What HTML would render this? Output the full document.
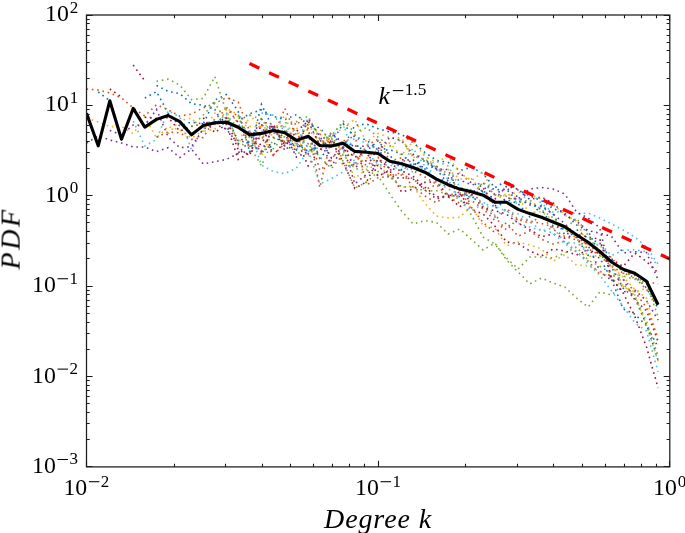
<!DOCTYPE html>
<html><head><meta charset="utf-8"><title>PDF vs Degree k</title>
<style>
html,body{margin:0;padding:0;background:#fff;}
svg{display:block;}
text{font-family:"Liberation Serif",serif;fill:#000;}
.tk{font-size:23.8px;}
.sup{font-size:17px;}
.ax{font-size:28px;font-style:italic;}
.dots path{fill:none;stroke-width:1.6;stroke-dasharray:1.6 3.75;stroke-linejoin:miter;}
</style></head>
<body>
<svg width="685" height="533" viewBox="0 0 685 533">
<rect x="0" y="0" width="685" height="533" fill="#ffffff"/>
<clipPath id="cp"><rect x="86.5" y="15.0" width="583.3" height="451.9"/></clipPath>
<g class="dots" clip-path="url(#cp)">
<path d="M144.8 98.1 L156.5 91.6 L168.2 113.2 L179.8 125.9 L191.5 122.1 L203.2 124.0 L214.8 100.0 L226.5 94.6 L238.2 111.2 L249.8 152.2 L261.5 104.4 L273.2 129.2 L284.8 143.2 L296.5 143.8 L308.2 151.3 L319.8 151.6 L331.5 133.5 L343.2 147.2 L354.8 125.5 L366.5 124.0 L378.1 128.7 L389.8 132.0 L401.5 134.3 L413.1 142.7 L424.8 152.3 L436.5 160.4 L448.1 162.4 L459.8 170.5 L471.5 167.2 L483.1 173.8 L494.8 187.8 L506.5 180.9 L518.1 190.1 L529.8 195.9 L541.5 200.7 L553.1 208.4 L564.8 213.3 L576.5 224.9 L588.1 231.1 L599.8 253.9 L611.5 266.9 L623.1 288.1 L634.8 298.2 L646.5 324.8 L658.1 360.2" stroke="#0072BD"/>
<path d="M86.5 89.0 L98.2 90.0 L109.8 93.0 L121.5 98.0 L133.2 108.0 L144.8 116.0 L156.5 104.7 L168.2 109.8 L179.8 116.1 L191.5 114.1 L203.2 107.8 L214.8 103.5 L226.5 97.5 L238.2 102.2 L249.8 131.7 L261.5 150.7 L273.2 128.1 L284.8 142.1 L296.5 138.5 L308.2 129.1 L319.8 170.4 L331.5 160.2 L343.2 139.2 L354.8 154.8 L366.5 165.7 L378.1 157.5 L389.8 174.9 L401.5 175.0 L413.1 178.6 L424.8 189.5 L436.5 184.8 L448.1 196.7 L459.8 203.4 L471.5 200.5 L483.1 208.9 L494.8 220.4 L506.5 208.3 L518.1 219.6 L529.8 223.2 L541.5 216.1 L553.1 229.4 L564.8 236.5 L576.5 240.0 L588.1 243.6 L599.8 255.6 L611.5 266.5 L623.1 273.0 L634.8 277.4 L646.5 289.5 L658.1 303.4" stroke="#D95319"/>
<path d="M86.5 118.3 L98.2 121.9 L109.8 126.6 L121.5 126.6 L133.2 133.6 L144.8 117.0 L156.5 138.0 L168.2 126.5 L179.8 130.0 L191.5 138.0 L203.2 130.9 L214.8 113.2 L226.5 108.4 L238.2 114.7 L249.8 126.5 L261.5 126.8 L273.2 123.7 L284.8 144.4 L296.5 127.0 L308.2 157.0 L319.8 141.1 L331.5 140.9 L343.2 145.4 L354.8 165.6 L366.5 158.4 L378.1 149.4 L389.8 143.1 L401.5 155.6 L413.1 141.3 L424.8 156.4 L436.5 162.2 L448.1 156.2 L459.8 173.0 L471.5 180.5 L483.1 172.0 L494.8 196.1 L506.5 195.4 L518.1 192.1 L529.8 194.2 L541.5 199.1 L553.1 204.3 L564.8 215.1 L576.5 221.0 L588.1 245.6 L599.8 244.3 L611.5 267.1 L623.1 276.7 L634.8 289.3 L646.5 298.1 L658.1 344.2" stroke="#EDB120"/>
<path d="M86.5 143.0 L98.2 136.0 L109.8 140.0 L121.5 143.0 L133.2 147.0 L144.8 147.0 L156.5 151.7 L168.2 147.7 L179.8 157.5 L191.5 149.0 L203.2 164.0 L214.8 161.7 L226.5 159.4 L238.2 153.5 L249.8 140.8 L261.5 119.1 L273.2 129.0 L284.8 133.3 L296.5 157.2 L308.2 151.0 L319.8 146.9 L331.5 132.7 L343.2 143.6 L354.8 146.1 L366.5 146.3 L378.1 147.3 L389.8 170.8 L401.5 159.8 L413.1 160.0 L424.8 168.6 L436.5 166.3 L448.1 178.2 L459.8 173.0 L471.5 183.0 L483.1 186.9 L494.8 194.1 L506.5 188.0 L518.1 197.3 L529.8 204.9 L541.5 206.6 L553.1 214.0 L564.8 223.6 L576.5 236.5 L588.1 245.2 L599.8 271.0 L611.5 280.6 L623.1 279.3 L634.8 300.0 L646.5 310.7 L658.1 341.3" stroke="#7E2F8E"/>
<path d="M156.5 81.3 L168.2 79.2 L179.8 85.0 L191.5 99.6 L203.2 98.4 L214.8 76.6 L226.5 112.5 L238.2 143.8 L249.8 145.9 L261.5 134.0 L273.2 148.8 L284.8 136.2 L296.5 155.4 L308.2 144.1 L319.8 156.9 L331.5 168.5 L343.2 154.5 L354.8 168.7 L366.5 170.0 L378.1 176.0 L389.8 194.0 L401.5 211.0 L413.1 224.0 L424.8 220.5 L436.5 222.5 L448.1 234.0 L459.8 229.0 L471.5 239.5 L483.1 250.0 L494.8 243.0 L506.5 260.0 L518.1 272.0 L529.8 284.0 L541.5 278.0 L553.1 283.0 L564.8 287.0 L576.5 298.0 L588.1 307.0 L599.8 292.0 L611.5 295.0 L623.1 284.2 L634.8 295.8 L646.5 321.5 L658.1 355.9" stroke="#77AC30"/>
<path d="M133.2 121.1 L144.8 146.0 L156.5 139.5 L168.2 110.7 L179.8 117.1 L191.5 149.7 L203.2 128.1 L214.8 123.9 L226.5 114.5 L238.2 128.1 L249.8 133.1 L261.5 131.5 L273.2 126.3 L284.8 128.9 L296.5 144.3 L308.2 117.7 L319.8 139.3 L331.5 135.1 L343.2 122.6 L354.8 163.3 L366.5 167.1 L378.1 160.0 L389.8 161.4 L401.5 163.1 L413.1 148.3 L424.8 166.1 L436.5 161.0 L448.1 165.9 L459.8 187.3 L471.5 190.6 L483.1 192.9 L494.8 203.1 L506.5 202.6 L518.1 203.2 L529.8 192.3 L541.5 203.4 L553.1 212.3 L564.8 211.3 L576.5 213.8 L588.1 213.0 L599.8 218.0 L611.5 224.0 L623.1 230.0 L634.8 237.0 L646.5 247.0 L658.1 264.0" stroke="#4DBEEE"/>
<path d="M144.8 117.3 L156.5 118.4 L168.2 117.6 L179.8 131.1 L191.5 126.4 L203.2 123.7 L214.8 124.3 L226.5 117.6 L238.2 150.0 L249.8 155.0 L261.5 124.1 L273.2 155.2 L284.8 141.7 L296.5 139.3 L308.2 165.9 L319.8 149.6 L331.5 141.3 L343.2 147.6 L354.8 157.2 L366.5 151.6 L378.1 176.1 L389.8 170.5 L401.5 191.9 L413.1 189.1 L424.8 182.4 L436.5 181.6 L448.1 195.7 L459.8 193.8 L471.5 209.3 L483.1 214.0 L494.8 226.0 L506.5 242.0 L518.1 243.5 L529.8 251.0 L541.5 256.0 L553.1 249.0 L564.8 251.0 L576.5 255.0 L588.1 250.2 L599.8 253.4 L611.5 258.9 L623.1 266.5 L634.8 252.9 L646.5 261.5 L658.1 272.9" stroke="#A2142F"/>
<path d="M156.5 85.5 L168.2 91.4 L179.8 93.7 L191.5 103.6 L203.2 105.4 L214.8 109.4 L226.5 130.3 L238.2 120.6 L249.8 113.7 L261.5 109.8 L273.2 116.4 L284.8 119.6 L296.5 114.6 L308.2 125.1 L319.8 127.8 L331.5 142.2 L343.2 123.7 L354.8 137.2 L366.5 139.8 L378.1 150.4 L389.8 149.8 L401.5 153.8 L413.1 164.6 L424.8 160.6 L436.5 169.4 L448.1 183.8 L459.8 188.7 L471.5 198.7 L483.1 189.2 L494.8 208.7 L506.5 199.5 L518.1 203.6 L529.8 216.9 L541.5 205.2 L553.1 214.3 L564.8 235.1 L576.5 229.4 L588.1 238.3 L599.8 243.1 L611.5 259.7 L623.1 270.2 L634.8 275.3 L646.5 288.1 L658.1 308.5" stroke="#0072BD"/>
<path d="M156.5 137.1 L168.2 132.0 L179.8 132.9 L191.5 139.4 L203.2 137.5 L214.8 118.9 L226.5 109.3 L238.2 116.1 L249.8 138.2 L261.5 124.3 L273.2 137.5 L284.8 108.3 L296.5 135.7 L308.2 143.8 L319.8 134.0 L331.5 145.1 L343.2 144.1 L354.8 134.8 L366.5 185.1 L378.1 177.7 L389.8 176.3 L401.5 172.4 L413.1 186.9 L424.8 195.9 L436.5 202.9 L448.1 193.1 L459.8 197.2 L471.5 189.4 L483.1 206.6 L494.8 216.8 L506.5 230.0 L518.1 218.2 L529.8 221.0 L541.5 223.5 L553.1 227.0 L564.8 225.4 L576.5 238.9 L588.1 248.7 L599.8 255.2 L611.5 257.1 L623.1 273.3 L634.8 273.9 L646.5 281.2 L658.1 284.2" stroke="#D95319"/>
<path d="M168.2 133.8 L179.8 120.6 L191.5 118.2 L203.2 131.3 L214.8 129.2 L226.5 109.8 L238.2 145.2 L249.8 115.0 L261.5 127.9 L273.2 127.8 L284.8 125.5 L296.5 149.6 L308.2 134.8 L319.8 129.2 L331.5 141.8 L343.2 151.0 L354.8 178.4 L366.5 169.2 L378.1 164.6 L389.8 176.8 L401.5 187.5 L413.1 186.0 L424.8 203.4 L436.5 216.1 L448.1 217.9 L459.8 217.3 L471.5 206.3 L483.1 225.8 L494.8 227.9 L506.5 245.8 L518.1 242.0 L529.8 244.9 L541.5 249.0 L553.1 261.3 L564.8 254.6 L576.5 265.2 L588.1 265.7 L599.8 271.3 L611.5 278.6 L623.1 286.6 L634.8 292.0 L646.5 288.0 L658.1 307.4" stroke="#EDB120"/>
<path d="M109.8 130.5 L121.5 134.8 L133.2 125.0 L144.8 125.4 L156.5 109.4 L168.2 137.0 L179.8 147.7 L191.5 146.6 L203.2 129.1 L214.8 124.0 L226.5 129.3 L238.2 144.2 L249.8 130.5 L261.5 154.9 L273.2 125.7 L284.8 150.6 L296.5 138.9 L308.2 153.9 L319.8 138.7 L331.5 166.3 L343.2 147.1 L354.8 183.8 L366.5 174.4 L378.1 165.1 L389.8 178.6 L401.5 177.6 L413.1 178.9 L424.8 189.9 L436.5 199.1 L448.1 195.3 L459.8 196.5 L471.5 192.1 L483.1 187.8 L494.8 206.2 L506.5 198.0 L518.1 199.0 L529.8 189.0 L541.5 187.5 L553.1 189.0 L564.8 194.0 L576.5 212.0 L588.1 218.0 L599.8 228.0 L611.5 278.9 L623.1 291.8 L634.8 290.2 L646.5 300.6 L658.1 320.1" stroke="#7E2F8E"/>
<path d="M191.5 126.7 L203.2 115.0 L214.8 102.7 L226.5 122.3 L238.2 115.6 L249.8 146.7 L261.5 165.7 L273.2 139.0 L284.8 129.4 L296.5 142.8 L308.2 151.5 L319.8 144.5 L331.5 132.2 L343.2 161.8 L354.8 188.0 L366.5 182.4 L378.1 171.5 L389.8 176.7 L401.5 186.7 L413.1 187.2 L424.8 191.0 L436.5 190.7 L448.1 194.4 L459.8 199.2 L471.5 215.0 L483.1 237.0 L494.8 244.0 L506.5 258.0 L518.1 269.0 L529.8 257.0 L541.5 257.0 L553.1 258.0 L564.8 253.0 L576.5 247.0 L588.1 260.1 L599.8 266.3 L611.5 273.3 L623.1 276.1 L634.8 279.3 L646.5 280.5 L658.1 305.6" stroke="#77AC30"/>
<path d="M203.2 124.3 L214.8 121.4 L226.5 121.6 L238.2 125.9 L249.8 131.0 L261.5 165.2 L273.2 171.5 L284.8 173.7 L296.5 168.1 L308.2 150.5 L319.8 183.9 L331.5 178.6 L343.2 171.8 L354.8 162.3 L366.5 151.2 L378.1 164.9 L389.8 164.7 L401.5 170.9 L413.1 163.0 L424.8 173.8 L436.5 167.9 L448.1 179.5 L459.8 199.3 L471.5 210.8 L483.1 203.8 L494.8 206.3 L506.5 211.2 L518.1 214.0 L529.8 221.3 L541.5 231.0 L553.1 227.7 L564.8 242.5 L576.5 243.1 L588.1 250.4 L599.8 243.4 L611.5 255.5 L623.1 250.3 L634.8 249.7 L646.5 251.8 L658.1 265.9" stroke="#4DBEEE"/>
<path d="M203.2 117.8 L214.8 132.6 L226.5 124.2 L238.2 159.5 L249.8 152.9 L261.5 143.4 L273.2 124.1 L284.8 146.4 L296.5 131.4 L308.2 121.0 L319.8 145.8 L331.5 140.8 L343.2 162.1 L354.8 188.3 L366.5 182.0 L378.1 158.9 L389.8 168.4 L401.5 170.6 L413.1 176.3 L424.8 187.0 L436.5 196.9 L448.1 196.4 L459.8 206.9 L471.5 194.9 L483.1 207.8 L494.8 210.7 L506.5 214.2 L518.1 223.0 L529.8 229.6 L541.5 236.7 L553.1 234.1 L564.8 238.1 L576.5 234.3 L588.1 237.0 L599.8 239.1 L611.5 278.0 L623.1 293.0 L634.8 316.0 L646.5 347.0 L658.1 388.0" stroke="#A2142F"/>
<path d="M214.8 122.3 L226.5 117.5 L238.2 140.9 L249.8 142.8 L261.5 151.8 L273.2 145.5 L284.8 131.4 L296.5 149.9 L308.2 136.3 L319.8 158.2 L331.5 146.0 L343.2 141.8 L354.8 145.6 L366.5 150.9 L378.1 140.8 L389.8 155.5 L401.5 169.6 L413.1 163.0 L424.8 168.9 L436.5 179.5 L448.1 180.5 L459.8 179.9 L471.5 184.9 L483.1 183.2 L494.8 189.8 L506.5 189.4 L518.1 201.5 L529.8 203.0 L541.5 209.9 L553.1 225.9 L564.8 229.5 L576.5 237.8 L588.1 255.2 L599.8 257.9 L611.5 279.2 L623.1 308.9 L634.8 314.2 L646.5 325.6 L658.1 347.0" stroke="#0072BD"/>
<path d="M226.5 107.1 L238.2 123.3 L249.8 147.4 L261.5 136.1 L273.2 155.0 L284.8 143.6 L296.5 121.4 L308.2 128.3 L319.8 187.5 L331.5 138.1 L343.2 165.6 L354.8 164.9 L366.5 145.6 L378.1 139.1 L389.8 161.1 L401.5 157.8 L413.1 170.8 L424.8 176.9 L436.5 184.4 L448.1 185.9 L459.8 190.7 L471.5 207.6 L483.1 222.5 L494.8 232.6 L506.5 222.5 L518.1 236.3 L529.8 230.9 L541.5 239.3 L553.1 244.0 L564.8 241.1 L576.5 252.1 L588.1 261.0 L599.8 274.1 L611.5 275.2 L623.1 279.1 L634.8 291.5 L646.5 307.7 L658.1 338.1" stroke="#D95319"/>
<path d="M226.5 120.2 L238.2 126.8 L249.8 135.9 L261.5 156.5 L273.2 130.6 L284.8 115.4 L296.5 146.6 L308.2 122.6 L319.8 145.0 L331.5 137.1 L343.2 127.6 L354.8 119.3 L366.5 142.2 L378.1 133.4 L389.8 137.9 L401.5 137.9 L413.1 157.6 L424.8 153.8 L436.5 169.5 L448.1 169.5 L459.8 179.0 L471.5 178.9 L483.1 192.1 L494.8 199.9 L506.5 193.9 L518.1 198.4 L529.8 212.7 L541.5 211.7 L553.1 220.3 L564.8 228.9 L576.5 237.0 L588.1 256.4 L599.8 255.6 L611.5 262.2 L623.1 285.8 L634.8 294.8 L646.5 325.1 L658.1 361.4" stroke="#EDB120"/>
<path d="M238.2 152.2 L249.8 152.0 L261.5 132.8 L273.2 126.2 L284.8 146.2 L296.5 149.8 L308.2 118.7 L319.8 136.0 L331.5 158.1 L343.2 146.8 L354.8 167.5 L366.5 160.5 L378.1 151.1 L389.8 137.2 L401.5 140.7 L413.1 154.2 L424.8 159.9 L436.5 168.9 L448.1 169.6 L459.8 195.9 L471.5 194.8 L483.1 190.9 L494.8 199.2 L506.5 186.4 L518.1 189.1 L529.8 199.5 L541.5 197.0 L553.1 203.0 L564.8 214.9 L576.5 221.2 L588.1 230.6 L599.8 233.2 L611.5 236.3 L623.1 252.9 L634.8 251.7 L646.5 252.6 L658.1 279.9" stroke="#7E2F8E"/>
<path d="M249.8 115.3 L261.5 119.2 L273.2 134.3 L284.8 122.9 L296.5 121.6 L308.2 116.1 L319.8 138.8 L331.5 135.7 L343.2 121.2 L354.8 132.5 L366.5 127.6 L378.1 137.1 L389.8 146.3 L401.5 139.4 L413.1 156.7 L424.8 158.9 L436.5 167.5 L448.1 173.5 L459.8 192.9 L471.5 195.9 L483.1 181.9 L494.8 195.0 L506.5 196.3 L518.1 202.6 L529.8 200.0 L541.5 209.9 L553.1 217.8 L564.8 229.4 L576.5 218.0 L588.1 235.4 L599.8 253.4 L611.5 262.5 L623.1 269.7 L634.8 279.1 L646.5 282.9 L658.1 316.9" stroke="#77AC30"/>
<path d="M261.5 112.9 L273.2 115.3 L284.8 128.2 L296.5 131.9 L308.2 147.9 L319.8 148.4 L331.5 142.6 L343.2 152.5 L354.8 137.9 L366.5 143.5 L378.1 149.7 L389.8 163.1 L401.5 166.1 L413.1 172.1 L424.8 166.8 L436.5 181.7 L448.1 189.1 L459.8 194.3 L471.5 197.7 L483.1 201.6 L494.8 215.2 L506.5 209.8 L518.1 223.4 L529.8 227.1 L541.5 230.4 L553.1 232.8 L564.8 243.8 L576.5 251.3 L588.1 263.6 L599.8 275.3 L611.5 290.9 L623.1 306.4 L634.8 322.7 L646.5 331.0 L658.1 371.9" stroke="#4DBEEE"/>
<path d="M133.2 65.1 L144.8 80.8" stroke="#A2142F"/>
<path d="M109.8 89.0 L121.5 97.0" stroke="#A2142F"/>
<path d="M98.2 91.8 L109.8 100.7" stroke="#0072BD"/>
</g>
<g clip-path="url(#cp)">
<path d="M86.5 113.3 L98.2 145.8 L109.8 100.8 L121.5 139.2 L133.2 108.4 L144.8 127.1 L156.5 119.4 L168.2 115.5 L179.8 121.6 L191.5 134.8 L203.2 125.6 L214.8 122.7 L226.5 122.2 L238.2 127.2 L249.8 134.9 L261.5 133.4 L273.2 130.5 L284.8 132.7 L296.5 140.4 L308.2 136.2 L319.8 145.5 L331.5 145.9 L343.2 143.3 L354.8 151.4 L366.5 152.3 L378.1 153.5 L389.8 161.2 L401.5 163.8 L413.1 167.5 L424.8 172.2 L436.5 179.2 L448.1 184.7 L459.8 189.1 L471.5 191.7 L483.1 195.2 L494.8 202.2 L506.5 202.3 L518.1 209.4 L529.8 213.6 L541.5 217.3 L553.1 222.0 L564.8 226.8 L576.5 234.7 L588.1 242.3 L599.8 251.5 L611.5 262.0 L623.1 269.3 L634.8 273.3 L646.5 281.2 L658.1 304.8" fill="none" stroke="#000" stroke-width="3.1" stroke-linejoin="round"/>
<path d="M249.5 63.6 L669.8 258.9" fill="none" stroke="#ff0000" stroke-width="3.3" stroke-dasharray="10.8 10.8"/>
</g>
<path d="M86.50 466.9 v-6.1 M86.50 15.0 v6.1 M174.50 466.9 v-3.2 M174.50 15.0 v3.2 M225.50 466.9 v-3.2 M225.50 15.0 v3.2 M262.50 466.9 v-3.2 M262.50 15.0 v3.2 M290.50 466.9 v-3.2 M290.50 15.0 v3.2 M313.50 466.9 v-3.2 M313.50 15.0 v3.2 M332.50 466.9 v-3.2 M332.50 15.0 v3.2 M349.50 466.9 v-3.2 M349.50 15.0 v3.2 M364.50 466.9 v-3.2 M364.50 15.0 v3.2 M378.50 466.9 v-6.1 M378.50 15.0 v6.1 M465.50 466.9 v-3.2 M465.50 15.0 v3.2 M517.50 466.9 v-3.2 M517.50 15.0 v3.2 M553.50 466.9 v-3.2 M553.50 15.0 v3.2 M582.50 466.9 v-3.2 M582.50 15.0 v3.2 M605.50 466.9 v-3.2 M605.50 15.0 v3.2 M624.50 466.9 v-3.2 M624.50 15.0 v3.2 M641.50 466.9 v-3.2 M641.50 15.0 v3.2 M656.50 466.9 v-3.2 M656.50 15.0 v3.2 M669.50 466.9 v-6.1 M669.50 15.0 v6.1 M86.5 466.50 h6.1 M669.8 466.50 h-6.1 M86.5 439.50 h3.2 M669.8 439.50 h-3.2 M86.5 423.50 h3.2 M669.8 423.50 h-3.2 M86.5 412.50 h3.2 M669.8 412.50 h-3.2 M86.5 403.50 h3.2 M669.8 403.50 h-3.2 M86.5 396.50 h3.2 M669.8 396.50 h-3.2 M86.5 390.50 h3.2 M669.8 390.50 h-3.2 M86.5 385.50 h3.2 M669.8 385.50 h-3.2 M86.5 380.50 h3.2 M669.8 380.50 h-3.2 M86.5 376.50 h6.1 M669.8 376.50 h-6.1 M86.5 349.50 h3.2 M669.8 349.50 h-3.2 M86.5 333.50 h3.2 M669.8 333.50 h-3.2 M86.5 322.50 h3.2 M669.8 322.50 h-3.2 M86.5 313.50 h3.2 M669.8 313.50 h-3.2 M86.5 306.50 h3.2 M669.8 306.50 h-3.2 M86.5 300.50 h3.2 M669.8 300.50 h-3.2 M86.5 294.50 h3.2 M669.8 294.50 h-3.2 M86.5 290.50 h3.2 M669.8 290.50 h-3.2 M86.5 286.50 h6.1 M669.8 286.50 h-6.1 M86.5 258.50 h3.2 M669.8 258.50 h-3.2 M86.5 243.50 h3.2 M669.8 243.50 h-3.2 M86.5 231.50 h3.2 M669.8 231.50 h-3.2 M86.5 222.50 h3.2 M669.8 222.50 h-3.2 M86.5 215.50 h3.2 M669.8 215.50 h-3.2 M86.5 209.50 h3.2 M669.8 209.50 h-3.2 M86.5 204.50 h3.2 M669.8 204.50 h-3.2 M86.5 199.50 h3.2 M669.8 199.50 h-3.2 M86.5 195.50 h6.1 M669.8 195.50 h-6.1 M86.5 168.50 h3.2 M669.8 168.50 h-3.2 M86.5 152.50 h3.2 M669.8 152.50 h-3.2 M86.5 141.50 h3.2 M669.8 141.50 h-3.2 M86.5 132.50 h3.2 M669.8 132.50 h-3.2 M86.5 125.50 h3.2 M669.8 125.50 h-3.2 M86.5 119.50 h3.2 M669.8 119.50 h-3.2 M86.5 114.50 h3.2 M669.8 114.50 h-3.2 M86.5 109.50 h3.2 M669.8 109.50 h-3.2 M86.5 105.50 h6.1 M669.8 105.50 h-6.1 M86.5 78.50 h3.2 M669.8 78.50 h-3.2 M86.5 62.50 h3.2 M669.8 62.50 h-3.2 M86.5 50.50 h3.2 M669.8 50.50 h-3.2 M86.5 42.50 h3.2 M669.8 42.50 h-3.2 M86.5 35.50 h3.2 M669.8 35.50 h-3.2 M86.5 29.50 h3.2 M669.8 29.50 h-3.2 M86.5 23.50 h3.2 M669.8 23.50 h-3.2 M86.5 19.50 h3.2 M669.8 19.50 h-3.2 M86.5 15.50 h6.1 M669.8 15.50 h-6.1" fill="none" stroke="#1a1a1a" stroke-width="1.1"/>
<rect x="86.5" y="15.0" width="583.3" height="451.9" fill="none" stroke="#1c1c1c" stroke-width="1.25"/>
<g style="filter:grayscale(1)">
<text x="32.05" y="473.00" class="tk">10</text><path d="M57.50 459.50 h10.5" stroke="#000" stroke-width="1.05" fill="none"/><text x="73.70" y="464.40" text-anchor="middle" class="sup">3</text>
<text x="32.05" y="382.62" class="tk">10</text><path d="M57.50 369.12 h10.5" stroke="#000" stroke-width="1.05" fill="none"/><text x="73.70" y="374.02" text-anchor="middle" class="sup">2</text>
<text x="32.05" y="292.24" class="tk">10</text><path d="M57.50 278.74 h10.5" stroke="#000" stroke-width="1.05" fill="none"/><text x="73.70" y="283.64" text-anchor="middle" class="sup">1</text>
<text x="45.05" y="201.86" class="tk">10</text><text x="74.10" y="193.26" text-anchor="middle" class="sup">0</text>
<text x="45.05" y="111.48" class="tk">10</text><text x="74.10" y="102.88" text-anchor="middle" class="sup">1</text>
<text x="45.05" y="21.10" class="tk">10</text><text x="74.10" y="12.50" text-anchor="middle" class="sup">2</text>
<text x="63.45" y="495.20" class="tk">10</text><path d="M88.90 481.70 h10.5" stroke="#000" stroke-width="1.05" fill="none"/><text x="105.10" y="486.60" text-anchor="middle" class="sup">2</text>
<text x="355.10" y="495.20" class="tk">10</text><path d="M380.55 481.70 h10.5" stroke="#000" stroke-width="1.05" fill="none"/><text x="396.75" y="486.60" text-anchor="middle" class="sup">1</text>
<text x="653.05" y="495.20" class="tk">10</text><text x="682.10" y="486.60" text-anchor="middle" class="sup">0</text>

<text x="324" y="528" class="ax" dx="0 0.9 0.9 0.9 0.9 0.9 0.9 0.9">Degree k</text>
<text transform="translate(19.6,269.5) rotate(-90)" class="ax" dx="0 2.6 2.6">PDF</text>
<text x="378.5" y="104.4" style="font-size:25.5px;font-style:italic">k</text>
<path d="M392.8 90.6 h10.5" stroke="#000" stroke-width="1.05" fill="none"/>
<text x="404.7" y="95.2" style="font-size:17.3px">1.5</text>
</g>
</svg>
</body></html>
